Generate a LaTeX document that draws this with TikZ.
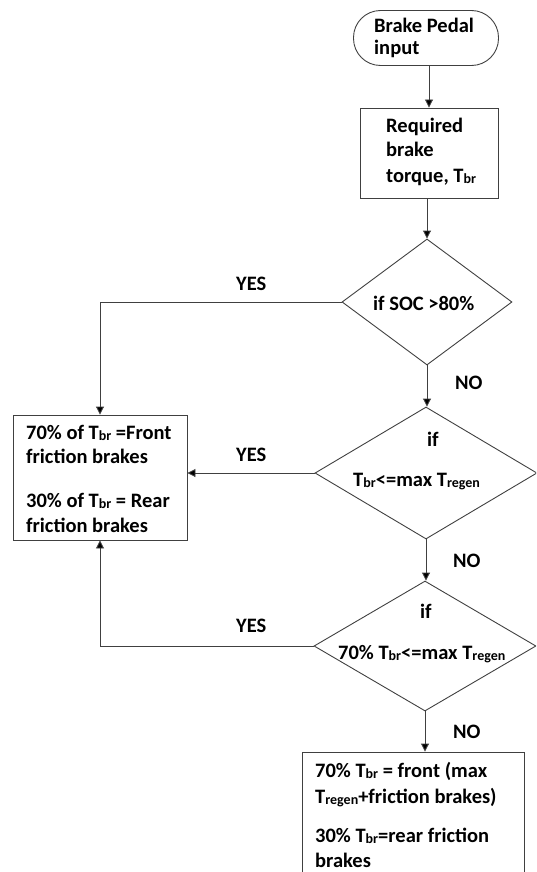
\documentclass[tikz,border=0pt]{standalone}
\usepackage{fontspec}
\setmainfont{Carlito}
\usetikzlibrary{shapes.geometric,arrows.meta}
\newcommand{\lowtxt}[1]{\raisebox{-1.6pt}{\fontsize{14}{14}\selectfont #1}}
\begin{document}
\begin{tikzpicture}[x=1pt,y=-1pt,
  every node/.style={font=\fontsize{20.5}{25}\selectfont\bfseries, text=black},
  shapeline/.style={draw=black!75, line width=0.9pt},
  boxshape/.style={shapeline, rectangle, inner sep=0pt},
  decision/.style={shapeline, diamond, inner sep=0pt},
  txt/.style={inner sep=0pt, anchor=base west},
  lbl/.style={inner sep=0pt, anchor=base west},
  arr/.style={draw=black!75, line width=0.9pt, -{Triangle[length=8pt,width=8pt,fill=black]}}]
\useasboundingbox (0,0) rectangle (536,872);
\clip (0,0) rectangle (536,872);
% terminal
\node[boxshape, rounded corners=27pt, minimum width=145pt, minimum height=55pt] (start) at (426,38) {};
\node[txt] (ts1) at (374,33) {Brake Pedal};
\node[txt] (ts2) at (374,55) {input};
% required torque
\node[boxshape, minimum width=138pt, minimum height=90pt] (req) at (429,153) {};
\node[txt] (tr1) at (386,132) {Required};
\node[txt] (tr2) at (386,157) {brake};
\node[txt] (tr3) at (386,182) {torque, T\lowtxt{br}};
% decision 1
\node[decision, minimum width=170pt, minimum height=126pt] (d1) at (427,302) {};
\node[txt] (td1) at (373,310) {if SOC {>}80\%};
% left box
\node[boxshape, minimum width=174pt, minimum height=125pt] (lb) at (100,477.5) {};
\node[txt] (tl1) at (26,439) {70\% of T\lowtxt{br} =Front};
\node[txt] (tl2) at (26,463) {friction brakes};
\node[txt] (tl3) at (26,507) {30\% of T\lowtxt{br} = Rear};
\node[txt] (tl4) at (26,532) {friction brakes};
% decision 2
\node[decision, minimum width=222pt, minimum height=132pt] (d2) at (426,473) {};
\node[txt] (td2a) at (427,446) {if};
\node[txt] (td2b) at (353,486) {T\lowtxt{br}{<}=max T\lowtxt{regen}};
% decision 3
\node[decision, minimum width=222pt, minimum height=130pt] (d3) at (425,646) {};
\node[txt] (td3a) at (420,618) {if};
\node[txt] (td3b) at (338,659) {70\% T\lowtxt{br}{<}=max T\lowtxt{regen}};
% final box (cut off at page bottom)
\node[boxshape, minimum width=222pt, minimum height=150pt] (fin) at (413,827) {};
\node[txt] (tf1) at (315,777) {70\% T\lowtxt{br} = front (max};
\node[txt] (tf2) at (315,803) {T\lowtxt{regen}+friction brakes)};
\node[txt] (tf3) at (315,842) {30\% T\lowtxt{br}=rear friction};
\node[txt] (tf4) at (315,867) {brakes};
% connectors
\draw[arr] (req.north |- start.south) -- (req.north);
\draw[arr] (req.south -| d1.north) -- (d1.north);
\draw[arr] (d1.west) -| (lb.north);
\draw[arr] (d1.south) -- (d1.south |- d2.north);
\draw[arr] (d2.west) -- (lb.east |- d2.west);
\draw[arr] (d2.south) -- (d2.south |- d3.north);
\draw[arr] (d3.west) -| (lb.south);
\draw[arr] (d3.south) -- (fin.north -| d3.south);
% labels
\node[lbl] (y1) at (236,290) {YES};
\node[lbl] (n1) at (455,389) {NO};
\node[lbl] (y2) at (236,461) {YES};
\node[lbl] (n2) at (453,567) {NO};
\node[lbl] (y3) at (236,632) {YES};
\node[lbl] (n3) at (453,738) {NO};
\end{tikzpicture}
\end{document}
